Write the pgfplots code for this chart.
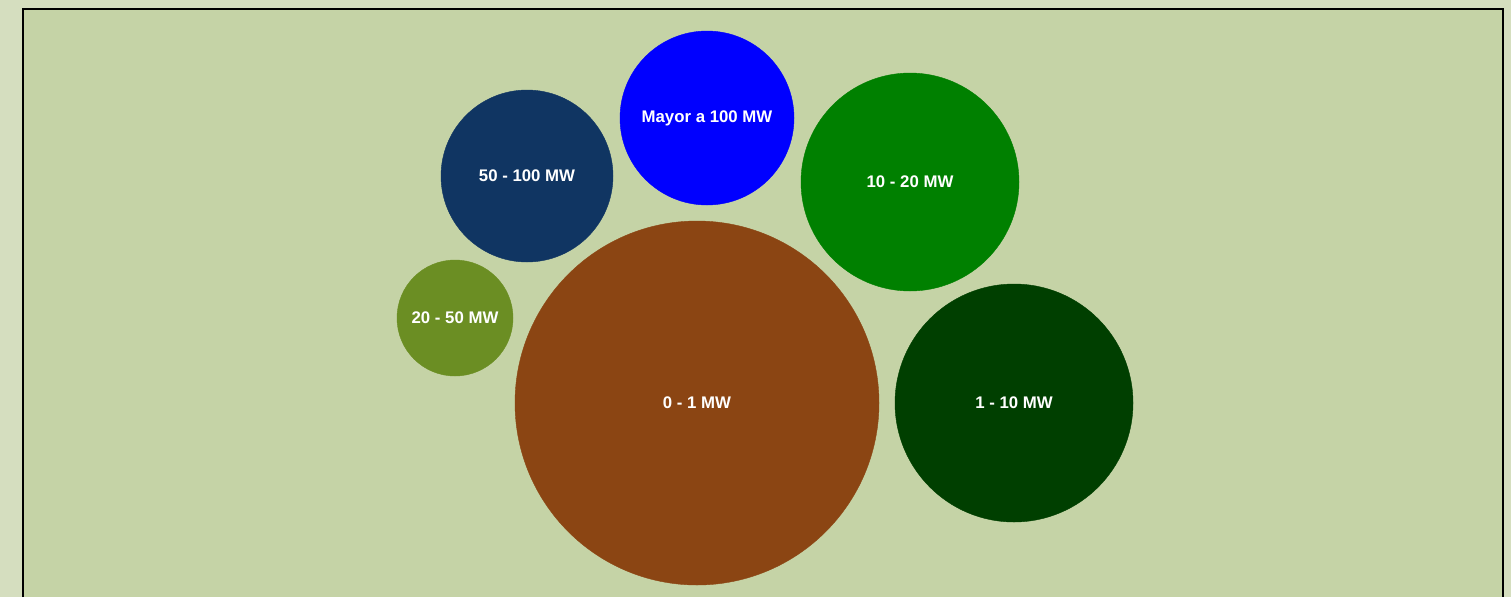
\documentclass[border=0pt]{standalone}
\usepackage{pgfplots}
\pgfplotsset{compat=1.18}
\usepackage{fontspec}
\setmainfont{Liberation Sans}

\definecolor{outerbg}{HTML}{D5DEBF}
\definecolor{innerbg}{HTML}{C5D3A6}
\definecolor{cBrown}{HTML}{8B4513}
\definecolor{cDark}{HTML}{003F00}
\definecolor{cGreen}{HTML}{008000}
\definecolor{cBlue}{HTML}{0000FF}
\definecolor{cNavy}{HTML}{103562}
\definecolor{cOlive}{HTML}{6B8E23}

\pgfplotsset{
    bubble/.style n args={3}{only marks, mark=*, mark size=#1, color=#2,
        mark options={draw=#2, fill=#2, line width=0.4pt},
        nodes near coords={#3}, nodes near coords align=center,
        every node near coord/.append style={text=white,
            font=\fontsize{16.8}{18}\selectfont\bfseries, anchor=center, inner sep=0pt}},
}

\begin{document}
\begin{tikzpicture}
\begin{axis}[
    width=1511pt, height=597pt, scale only axis,
    xmin=0, xmax=1511, ymin=0, ymax=597, y dir=reverse,
    hide axis, clip=false,
]
\fill[outerbg] (axis cs:0,0) rectangle (axis cs:1511,597);
\fill[innerbg] (axis cs:23,9) rectangle (axis cs:1503,597);
\draw[black, line width=2pt] (axis cs:23,597) -- (axis cs:23,9) -- (axis cs:1503,9) -- (axis cs:1503,597);
% x, y in pixels from top-left; mark size = radius
\addplot[bubble={182}{cBrown}{0 - 1 MW}] coordinates {(697,403)};
\addplot[bubble={119}{cDark}{1 - 10 MW}] coordinates {(1014,403)};
\addplot[bubble={109}{cGreen}{10 - 20 MW}] coordinates {(910,182)};
\addplot[bubble={87}{cBlue}{Mayor a 100 MW}] coordinates {(707,118)};
\addplot[bubble={86}{cNavy}{50 - 100 MW}] coordinates {(527,176)};
\addplot[bubble={58}{cOlive}{20 - 50 MW}] coordinates {(455,318)};
\end{axis}
\end{tikzpicture}
\end{document}
